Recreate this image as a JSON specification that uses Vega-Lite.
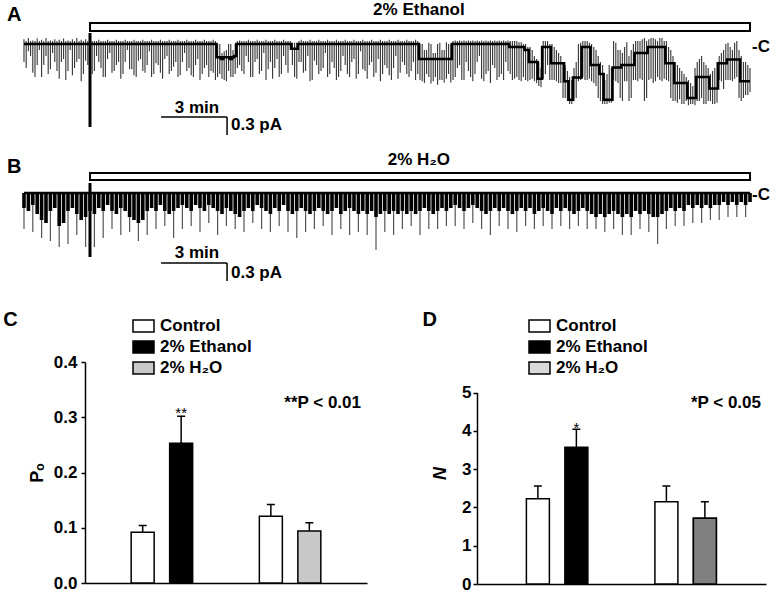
{
"$schema": "https://vega.github.io/schema/vega-lite/v6.json",
"padding": {"left": 3, "top": 0, "right": 0, "bottom": 0},
"background": "white",
"columns": 1,
"align": "none",
"spacing": 0,
"config": {
  "view": {"stroke": null},
  "font": "Liberation Sans",
  "text": {"font": "Liberation Sans", "color": "black"},
  "axis": {"labelFont": "Liberation Sans", "titleFont": "Liberation Sans", "domainColor": "black", "tickColor": "black", "labelColor": "black", "titleColor": "black", "grid": false, "labelFlush": false, "labelOverlap": false},
  "legend": {"labelFont": "Liberation Sans", "labelColor": "black"},
  "title": {"font": "Liberation Sans", "fontSize": 20, "fontWeight": "bold", "color": "black"}
},
"datasets": {
  "traceA": [
{"t":0,"h":0.08,"b":0,"l":-0.3},{"t":0.2,"h":0.1,"b":0,"l":-0.12},{"t":0.4,"h":0.06,"b":0,"l":-0.48},{"t":0.6,"h":0.09,"b":0,"l":-0.35},{"t":0.8,"h":0.07,"b":0,"l":-0.55},{"t":1,"h":0.1,"b":0,"l":-0.2},{"t":1.2,"h":0.06,"b":0,"l":-0.42},{"t":1.4,"h":0.08,"b":0,"l":-0.3},{"t":1.6,"h":0.07,"b":0,"l":-0.58},{"t":1.8,"h":0.09,"b":0,"l":-0.25},{"t":2,"h":0.06,"b":0,"l":-0.45},{"t":2.2,"h":0.08,"b":0,"l":-0.52},{"t":2.4,"h":0.1,"b":0,"l":-0.3},{"t":2.6,"h":0.07,"b":0,"l":-0.62},{"t":2.8,"h":0.08,"b":0,"l":-0.28},{"t":3,"h":0.08,"b":0,"l":-0.5},
{"t":3.2,"h":0.05,"b":0,"l":-0.45},{"t":3.4,"h":0.07,"b":0,"l":-0.3},{"t":3.6,"h":0.05,"b":0,"l":-0.55},{"t":3.8,"h":0.07,"b":0,"l":-0.25},{"t":4,"h":0.05,"b":0,"l":-0.48},{"t":4.2,"h":0.07,"b":0,"l":-0.35},{"t":4.4,"h":0.05,"b":0,"l":-0.58},{"t":4.6,"h":0.07,"b":0,"l":-0.3},{"t":4.8,"h":0.05,"b":0,"l":-0.42},{"t":5,"h":0.07,"b":0,"l":-0.52},{"t":5.2,"h":0.05,"b":0,"l":-0.28},{"t":5.4,"h":0.07,"b":0,"l":-0.45},{"t":5.6,"h":0.05,"b":0,"l":-0.35},{"t":5.8,"h":0.07,"b":0,"l":-0.55},{"t":6,"h":0.05,"b":0,"l":-0.32},{"t":6.2,"h":0.07,"b":0,"l":-0.48},{"t":6.4,"h":0.05,"b":0,"l":-0.25},{"t":6.6,"h":0.07,"b":0,"l":-0.5},{"t":6.8,"h":0.05,"b":0,"l":-0.38},{"t":7,"h":0.07,"b":0,"l":-0.55},{"t":7.2,"h":0.05,"b":0,"l":-0.3},{"t":7.4,"h":0.07,"b":0,"l":-0.45},{"t":7.6,"h":0.05,"b":0,"l":-0.52},{"t":7.8,"h":0.07,"b":0,"l":-0.35},{"t":8,"h":0.05,"b":0,"l":-0.6},{"t":8.2,"h":0.07,"b":0,"l":-0.4},{"t":8.4,"h":0.05,"b":0,"l":-0.55},{"t":8.6,"h":0.07,"b":0,"l":-0.48},
{"t":8.8,"h":0,"b":-0.22,"l":-0.55},{"t":9,"h":-0.15,"b":-0.25,"l":-0.58},{"t":9.2,"h":-0.1,"b":-0.22,"l":-0.62},{"t":9.4,"h":0,"b":-0.25,"l":-0.55},{"t":9.6,"h":0,"b":-0.2,"l":-0.5},
{"t":9.8,"h":0.06,"b":0,"l":-0.35},{"t":10,"h":0.05,"b":0,"l":-0.5},{"t":10.2,"h":0.07,"b":0,"l":-0.3},{"t":10.4,"h":0.05,"b":0,"l":-0.55},{"t":10.6,"h":0.07,"b":0,"l":-0.25},{"t":10.8,"h":0.05,"b":0,"l":-0.45},{"t":11,"h":0.07,"b":0,"l":-0.6},{"t":11.2,"h":0.05,"b":0,"l":-0.3},{"t":11.4,"h":0.07,"b":0,"l":-0.4},{"t":11.6,"h":0.05,"b":0,"l":-0.55},{"t":11.8,"h":0.07,"b":0,"l":-0.2},{"t":12,"h":0.05,"b":0,"l":-0.48},{"t":12.2,"h":0.02,"b":-0.08,"l":-0.35},{"t":12.4,"h":0.02,"b":-0.08,"l":-0.58},{"t":12.6,"h":0.07,"b":0,"l":-0.3},{"t":12.8,"h":0.05,"b":0,"l":-0.45},{"t":13,"h":0.07,"b":0,"l":-0.62},{"t":13.2,"h":0.05,"b":0,"l":-0.28},{"t":13.4,"h":0.07,"b":0,"l":-0.5},{"t":13.6,"h":0.05,"b":0,"l":-0.4},{"t":13.8,"h":0.07,"b":0,"l":-0.55},{"t":14,"h":0.05,"b":0,"l":-0.3},{"t":14.2,"h":0.07,"b":0,"l":-0.6},{"t":14.4,"h":0.05,"b":0,"l":-0.45},{"t":14.6,"h":0.07,"b":0,"l":-0.35},{"t":14.8,"h":0.05,"b":0,"l":-0.55},{"t":15,"h":0.07,"b":0,"l":-0.25},{"t":15.2,"h":0.05,"b":0,"l":-0.5},{"t":15.4,"h":0.07,"b":0,"l":-0.42},{"t":15.6,"h":0.05,"b":0,"l":-0.58},{"t":15.8,"h":0.07,"b":0,"l":-0.3},{"t":16,"h":0.05,"b":0,"l":-0.48},{"t":16.2,"h":0.07,"b":0,"l":-0.62},{"t":16.4,"h":0.05,"b":0,"l":-0.35},{"t":16.6,"h":0.07,"b":0,"l":-0.52},{"t":16.8,"h":0.05,"b":0,"l":-0.4},{"t":17,"h":0.07,"b":0,"l":-0.58},{"t":17.2,"h":0.05,"b":0,"l":-0.3},{"t":17.4,"h":0.07,"b":0,"l":-0.5},{"t":17.6,"h":0.05,"b":0,"l":-0.45},{"t":17.8,"h":0.07,"b":0,"l":-0.6},
{"t":18,"h":0,"b":-0.25,"l":-0.6},{"t":18.2,"h":-0.1,"b":-0.25,"l":-0.65},{"t":18.4,"h":0.02,"b":-0.25,"l":-0.55},{"t":18.6,"h":-0.15,"b":-0.25,"l":-0.62},{"t":18.8,"h":0,"b":-0.25,"l":-0.68},{"t":19,"h":-0.1,"b":-0.25,"l":-0.6},{"t":19.2,"h":0.03,"b":-0.25,"l":-0.58},{"t":19.4,"h":0,"b":-0.25,"l":-0.64},
{"t":19.6,"h":0.06,"b":0,"l":-0.55},{"t":19.8,"h":0.06,"b":0,"l":-0.35},{"t":20,"h":0.06,"b":0,"l":-0.6},{"t":20.2,"h":0.06,"b":0,"l":-0.45},{"t":20.4,"h":0.06,"b":0,"l":-0.62},{"t":20.6,"h":0.06,"b":0,"l":-0.3},{"t":20.8,"h":0.06,"b":0,"l":-0.58},{"t":21,"h":0.06,"b":0,"l":-0.5},{"t":21.2,"h":0.06,"b":0,"l":-0.65},{"t":21.4,"h":0.06,"b":0,"l":-0.4},{"t":21.6,"h":0.06,"b":0,"l":-0.55},{"t":21.8,"h":0.06,"b":0,"l":-0.6},{"t":22,"h":0.06,"b":0,"l":-0.45},
{"t":22.2,"h":0.05,"b":-0.05,"l":-0.6},{"t":22.4,"h":0.05,"b":-0.05,"l":-0.55},{"t":22.6,"h":0.03,"b":-0.05,"l":-0.62},{"t":22.8,"h":0,"b":-0.1,"l":-0.6},{"t":23,"h":-0.05,"b":-0.3,"l":-0.6},{"t":23.2,"h":-0.2,"b":-0.3,"l":-0.62},{"t":23.4,"h":-0.3,"b":-0.58,"l":-0.7},{"t":23.6,"h":0.05,"b":-0.05,"l":-0.58},{"t":23.8,"h":0.05,"b":-0.05,"l":-0.35},{"t":24,"h":0,"b":-0.32,"l":-0.6},{"t":24.2,"h":-0.1,"b":-0.32,"l":-0.62},{"t":24.4,"h":-0.2,"b":-0.32,"l":-0.65},{"t":24.6,"h":-0.35,"b":-0.62,"l":-0.9},{"t":24.8,"h":-0.55,"b":-0.93,"l":-1},{"t":25,"h":-0.4,"b":-0.56,"l":-0.95},{"t":25.2,"h":0,"b":-0.56,"l":-0.62},{"t":25.4,"h":0.05,"b":-0.05,"l":-0.55},{"t":25.6,"h":0.05,"b":-0.05,"l":-0.6},{"t":25.8,"h":0,"b":-0.35,"l":-0.62},{"t":26,"h":-0.1,"b":-0.35,"l":-0.7},{"t":26.2,"h":-0.3,"b":-0.5,"l":-0.95},{"t":26.4,"h":-0.6,"b":-0.93,"l":-1},{"t":26.6,"h":-0.35,"b":-0.93,"l":-0.98},{"t":26.8,"h":0.05,"b":-0.39,"l":-0.6},{"t":27,"h":-0.1,"b":-0.39,"l":-0.65},{"t":27.2,"h":-0.15,"b":-0.35,"l":-0.95},{"t":27.4,"h":0.03,"b":-0.35,"l":-0.62},{"t":27.6,"h":-0.1,"b":-0.35,"l":-0.9},{"t":27.8,"h":0.05,"b":-0.15,"l":-0.6},{"t":28,"h":0.05,"b":-0.15,"l":-0.58},{"t":28.2,"h":0.1,"b":-0.15,"l":-0.95},{"t":28.4,"h":0.08,"b":-0.05,"l":-0.6},{"t":28.6,"h":0.1,"b":-0.05,"l":-0.65},{"t":28.8,"h":0.05,"b":-0.05,"l":-0.55},{"t":29,"h":0.1,"b":-0.05,"l":-0.62},{"t":29.2,"h":0.05,"b":-0.32,"l":-0.6},{"t":29.4,"h":-0.1,"b":-0.32,"l":-0.9},{"t":29.6,"h":-0.3,"b":-0.65,"l":-0.95},{"t":29.8,"h":-0.4,"b":-0.65,"l":-0.92},{"t":30,"h":-0.5,"b":-0.65,"l":-1},{"t":30.2,"h":-0.6,"b":-0.9,"l":-1.02},{"t":30.4,"h":-0.7,"b":-0.9,"l":-1},{"t":30.6,"h":-0.3,"b":-0.55,"l":-0.95},{"t":30.8,"h":-0.2,"b":-0.55,"l":-0.9},{"t":31,"h":-0.35,"b":-0.55,"l":-1},{"t":31.2,"h":-0.5,"b":-0.74,"l":-0.95},{"t":31.4,"h":-0.4,"b":-0.74,"l":-1},{"t":31.6,"h":-0.2,"b":-0.32,"l":-0.6},{"t":31.8,"h":-0.1,"b":-0.32,"l":-0.75},{"t":32,"h":0.02,"b":-0.26,"l":-0.6},{"t":32.2,"h":-0.1,"b":-0.26,"l":-0.62},{"t":32.4,"h":0.05,"b":-0.26,"l":-0.55},{"t":32.6,"h":-0.2,"b":-0.62,"l":-0.95},{"t":32.8,"h":-0.3,"b":-0.62,"l":-0.85},{"t":33,"h":-0.4,"b":-0.62,"l":-0.8},
{"t":0.1,"h":0.05,"b":0,"l":-0.4},{"t":0.3,"h":0.05,"b":0,"l":-0.2},{"t":0.5,"h":0.05,"b":0,"l":-0.55},{"t":0.7,"h":0.05,"b":0,"l":-0.1},{"t":0.9,"h":0.05,"b":0,"l":-0.35},{"t":1.1,"h":0.05,"b":0,"l":-0.5},{"t":1.3,"h":0.05,"b":0,"l":-0.15},{"t":1.5,"h":0.05,"b":0,"l":-0.45},{"t":1.7,"h":0.05,"b":0,"l":-0.3},{"t":1.9,"h":0.05,"b":0,"l":-0.6},{"t":2.1,"h":0.05,"b":0,"l":-0.1},{"t":2.3,"h":0.05,"b":0,"l":-0.4},{"t":2.5,"h":0.05,"b":0,"l":-0.25},{"t":2.7,"h":0.05,"b":0,"l":-0.5},{"t":2.9,"h":0.05,"b":0,"l":-0.35},
{"t":3.1,"h":0.05,"b":0,"l":-0.5},{"t":3.3,"h":0.05,"b":0,"l":-0.2},{"t":3.5,"h":0.05,"b":0,"l":-0.4},{"t":3.7,"h":0.05,"b":0,"l":-0.55},{"t":3.9,"h":0.05,"b":0,"l":-0.15},{"t":4.1,"h":0.05,"b":0,"l":-0.45},{"t":4.3,"h":0.05,"b":0,"l":-0.3},{"t":4.5,"h":0.05,"b":0,"l":-0.5},{"t":4.7,"h":0.05,"b":0,"l":-0.1},{"t":4.9,"h":0.05,"b":0,"l":-0.42},{"t":5.1,"h":0.05,"b":0,"l":-0.55},{"t":5.3,"h":0.05,"b":0,"l":-0.25},{"t":5.5,"h":0.05,"b":0,"l":-0.48},{"t":5.7,"h":0.05,"b":0,"l":-0.12},{"t":5.9,"h":0.05,"b":0,"l":-0.5},{"t":6.1,"h":0.05,"b":0,"l":-0.35},{"t":6.3,"h":0.05,"b":0,"l":-0.58},{"t":6.5,"h":0.05,"b":0,"l":-0.2},{"t":6.7,"h":0.05,"b":0,"l":-0.45},{"t":6.9,"h":0.05,"b":0,"l":-0.3},{"t":7.1,"h":0.05,"b":0,"l":-0.52},{"t":7.3,"h":0.05,"b":0,"l":-0.15},{"t":7.5,"h":0.05,"b":0,"l":-0.4},{"t":7.7,"h":0.05,"b":0,"l":-0.55},{"t":7.9,"h":0.05,"b":0,"l":-0.25},{"t":8.1,"h":0.05,"b":0,"l":-0.5},{"t":8.3,"h":0.05,"b":0,"l":-0.35},{"t":8.5,"h":0.05,"b":0,"l":-0.45},{"t":8.7,"h":0.05,"b":0,"l":-0.6},
{"t":8.9,"h":0,"b":-0.22,"l":-0.5},{"t":9.1,"h":-0.12,"b":-0.22,"l":-0.6},{"t":9.3,"h":0,"b":-0.22,"l":-0.45},{"t":9.5,"h":-0.1,"b":-0.22,"l":-0.55},{"t":9.7,"h":0.05,"b":0,"l":-0.4},
{"t":9.9,"h":0.05,"b":0,"l":-0.45},{"t":10.1,"h":0.05,"b":0,"l":-0.2},{"t":10.3,"h":0.05,"b":0,"l":-0.55},{"t":10.5,"h":0.05,"b":0,"l":-0.3},{"t":10.7,"h":0.05,"b":0,"l":-0.5},{"t":10.9,"h":0.05,"b":0,"l":-0.15},{"t":11.1,"h":0.05,"b":0,"l":-0.42},{"t":11.3,"h":0.05,"b":0,"l":-0.58},{"t":11.5,"h":0.05,"b":0,"l":-0.25},{"t":11.7,"h":0.05,"b":0,"l":-0.5},{"t":11.9,"h":0.05,"b":0,"l":-0.35},{"t":12.1,"h":0.05,"b":0,"l":-0.1},{"t":12.3,"h":0.02,"b":-0.08,"l":-0.55},{"t":12.5,"h":0.05,"b":0,"l":-0.3},{"t":12.7,"h":0.05,"b":0,"l":-0.48},{"t":12.9,"h":0.05,"b":0,"l":-0.2},{"t":13.1,"h":0.05,"b":0,"l":-0.6},{"t":13.3,"h":0.05,"b":0,"l":-0.35},{"t":13.5,"h":0.05,"b":0,"l":-0.45},{"t":13.7,"h":0.05,"b":0,"l":-0.15},{"t":13.9,"h":0.05,"b":0,"l":-0.5},{"t":14.1,"h":0.05,"b":0,"l":-0.4},{"t":14.3,"h":0.05,"b":0,"l":-0.55},{"t":14.5,"h":0.05,"b":0,"l":-0.2},{"t":14.7,"h":0.05,"b":0,"l":-0.5},{"t":14.9,"h":0.05,"b":0,"l":-0.3},{"t":15.1,"h":0.05,"b":0,"l":-0.58},{"t":15.3,"h":0.05,"b":0,"l":-0.12},{"t":15.5,"h":0.05,"b":0,"l":-0.45},{"t":15.7,"h":0.05,"b":0,"l":-0.35},{"t":15.9,"h":0.05,"b":0,"l":-0.55},{"t":16.1,"h":0.05,"b":0,"l":-0.25},{"t":16.3,"h":0.05,"b":0,"l":-0.5},{"t":16.5,"h":0.05,"b":0,"l":-0.4},{"t":16.7,"h":0.05,"b":0,"l":-0.6},{"t":16.9,"h":0.05,"b":0,"l":-0.2},{"t":17.1,"h":0.05,"b":0,"l":-0.48},{"t":17.3,"h":0.05,"b":0,"l":-0.35},{"t":17.5,"h":0.05,"b":0,"l":-0.55},{"t":17.7,"h":0.05,"b":0,"l":-0.3},{"t":17.9,"h":0.05,"b":0,"l":-0.5},
{"t":18.1,"h":0,"b":-0.25,"l":-0.62},{"t":18.3,"h":-0.1,"b":-0.25,"l":-0.5},{"t":18.5,"h":0,"b":-0.25,"l":-0.66},{"t":18.7,"h":-0.15,"b":-0.25,"l":-0.55},{"t":18.9,"h":0.02,"b":-0.25,"l":-0.6},{"t":19.1,"h":-0.1,"b":-0.25,"l":-0.64},{"t":19.3,"h":0,"b":-0.25,"l":-0.5},{"t":19.5,"h":0.05,"b":0,"l":-0.6},
{"t":19.7,"h":0.05,"b":0,"l":-0.4},{"t":19.9,"h":0.05,"b":0,"l":-0.6},{"t":20.1,"h":0.05,"b":0,"l":-0.3},{"t":20.3,"h":0.05,"b":0,"l":-0.55},{"t":20.5,"h":0.05,"b":0,"l":-0.5},{"t":20.7,"h":0.05,"b":0,"l":-0.2},{"t":20.9,"h":0.05,"b":0,"l":-0.62},{"t":21.1,"h":0.05,"b":0,"l":-0.45},{"t":21.3,"h":0.05,"b":0,"l":-0.35},{"t":21.5,"h":0.05,"b":0,"l":-0.6},{"t":21.7,"h":0.05,"b":0,"l":-0.5},{"t":21.9,"h":0.05,"b":0,"l":-0.3},{"t":22.1,"h":0.05,"b":-0.05,"l":-0.5},
{"t":22.3,"h":0.05,"b":-0.05,"l":-0.58},{"t":22.5,"h":0.03,"b":-0.05,"l":-0.6},{"t":22.7,"h":0,"b":-0.05,"l":-0.55},{"t":22.9,"h":-0.05,"b":-0.1,"l":-0.62},{"t":23.1,"h":-0.1,"b":-0.3,"l":-0.58},{"t":23.3,"h":-0.25,"b":-0.3,"l":-0.65},{"t":23.5,"h":-0.4,"b":-0.58,"l":-0.72},{"t":23.7,"h":0.05,"b":-0.05,"l":-0.5},{"t":23.9,"h":0,"b":-0.05,"l":-0.6},{"t":24.1,"h":-0.05,"b":-0.32,"l":-0.6},{"t":24.3,"h":-0.15,"b":-0.32,"l":-0.65},{"t":24.5,"h":-0.3,"b":-0.32,"l":-0.9},{"t":24.7,"h":-0.45,"b":-0.62,"l":-0.95},{"t":24.9,"h":-0.6,"b":-0.93,"l":-1},{"t":25.1,"h":-0.3,"b":-0.56,"l":-0.9},{"t":25.3,"h":0.02,"b":-0.56,"l":-0.6},{"t":25.5,"h":0.05,"b":-0.05,"l":-0.6},{"t":25.7,"h":0.02,"b":-0.05,"l":-0.58},{"t":25.9,"h":-0.05,"b":-0.35,"l":-0.65},{"t":26.1,"h":-0.2,"b":-0.35,"l":-0.9},{"t":26.3,"h":-0.35,"b":-0.5,"l":-1},{"t":26.5,"h":-0.5,"b":-0.93,"l":-1},{"t":26.7,"h":-0.4,"b":-0.93,"l":-0.98},{"t":26.9,"h":0.02,"b":-0.39,"l":-0.62},{"t":27.1,"h":-0.1,"b":-0.39,"l":-0.9},{"t":27.3,"h":-0.05,"b":-0.35,"l":-0.62},{"t":27.5,"h":-0.2,"b":-0.35,"l":-0.95},{"t":27.7,"h":0,"b":-0.35,"l":-0.6},{"t":27.9,"h":0.05,"b":-0.15,"l":-0.62},{"t":28.1,"h":0.08,"b":-0.15,"l":-0.6},{"t":28.3,"h":0.05,"b":-0.15,"l":-0.9},{"t":28.5,"h":0.1,"b":-0.05,"l":-0.58},{"t":28.7,"h":0.08,"b":-0.05,"l":-0.62},{"t":28.9,"h":0.1,"b":-0.05,"l":-0.6},{"t":29.1,"h":0.05,"b":-0.05,"l":-0.58},{"t":29.3,"h":-0.05,"b":-0.32,"l":-0.62},{"t":29.5,"h":-0.2,"b":-0.32,"l":-0.95},{"t":29.7,"h":-0.35,"b":-0.65,"l":-0.98},{"t":29.9,"h":-0.45,"b":-0.65,"l":-1},{"t":30.1,"h":-0.55,"b":-0.65,"l":-0.95},{"t":30.3,"h":-0.65,"b":-0.9,"l":-1},{"t":30.5,"h":-0.4,"b":-0.9,"l":-1.02},{"t":30.7,"h":-0.25,"b":-0.55,"l":-0.95},{"t":30.9,"h":-0.3,"b":-0.55,"l":-1},{"t":31.1,"h":-0.4,"b":-0.55,"l":-0.95},{"t":31.3,"h":-0.45,"b":-0.74,"l":-1},{"t":31.5,"h":-0.3,"b":-0.74,"l":-0.98},{"t":31.7,"h":-0.15,"b":-0.32,"l":-0.62},{"t":31.9,"h":0,"b":-0.32,"l":-0.6},{"t":32.1,"h":-0.05,"b":-0.26,"l":-0.6},{"t":32.3,"h":0.02,"b":-0.26,"l":-0.58},{"t":32.5,"h":-0.1,"b":-0.26,"l":-0.9},{"t":32.7,"h":-0.3,"b":-0.62,"l":-0.9},{"t":32.9,"h":-0.35,"b":-0.62,"l":-0.85}
  ],
  "traceB": [
{"t":0,"b":0,"m":-0.25,"l":-0.6},{"t":0.2,"b":0,"m":-0.3,"l":-0.3},{"t":0.4,"b":0,"m":-0.2,"l":-0.65},{"t":0.6,"b":0,"m":-0.35,"l":-0.35},{"t":0.8,"b":0,"m":-0.45,"l":-0.75},{"t":1,"b":0,"m":-0.5,"l":-0.5},{"t":1.2,"b":0,"m":-0.3,"l":-0.8},{"t":1.4,"b":0,"m":-0.25,"l":-0.25},{"t":1.6,"b":0,"m":-0.55,"l":-0.9},{"t":1.8,"b":0,"m":-0.5,"l":-0.5},{"t":2,"b":0,"m":-0.3,"l":-0.85},{"t":2.2,"b":0,"m":-0.25,"l":-0.25},{"t":2.4,"b":0,"m":-0.35,"l":-0.7},{"t":2.6,"b":0,"m":-0.45,"l":-0.45},{"t":2.8,"b":0,"m":-0.4,"l":-0.9},{"t":3,"b":0,"m":-0.3,"l":-0.6},{"t":3.2,"b":0,"m":-0.35,"l":-0.9},{"t":3.4,"b":0,"m":-0.25,"l":-0.25},{"t":3.6,"b":0,"m":-0.3,"l":-0.75},{"t":3.8,"b":0,"m":-0.2,"l":-0.2},{"t":4,"b":0,"m":-0.3,"l":-0.6},{"t":4.2,"b":0,"m":-0.35,"l":-0.35},{"t":4.4,"b":0,"m":-0.25,"l":-0.7},{"t":4.6,"b":0,"m":-0.3,"l":-0.3},{"t":4.8,"b":0,"m":-0.4,"l":-0.65},{"t":5,"b":0,"m":-0.45,"l":-0.45},{"t":5.2,"b":0,"m":-0.5,"l":-0.8},{"t":5.4,"b":0,"m":-0.45,"l":-0.45},{"t":5.6,"b":0,"m":-0.3,"l":-0.7},{"t":5.8,"b":0,"m":-0.25,"l":-0.25},{"t":6,"b":0,"m":-0.3,"l":-0.6},{"t":6.2,"b":0,"m":-0.2,"l":-0.2},{"t":6.4,"b":0,"m":-0.3,"l":-0.55},{"t":6.6,"b":0,"m":-0.35,"l":-0.35},{"t":6.8,"b":0,"m":-0.3,"l":-0.75},{"t":7,"b":0,"m":-0.25,"l":-0.25},{"t":7.2,"b":0,"m":-0.2,"l":-0.6},{"t":7.4,"b":0,"m":-0.25,"l":-0.25},{"t":7.6,"b":0,"m":-0.3,"l":-0.55},{"t":7.8,"b":0,"m":-0.2,"l":-0.2},{"t":8,"b":0,"m":-0.25,"l":-0.65},{"t":8.2,"b":0,"m":-0.3,"l":-0.3},{"t":8.4,"b":0,"m":-0.2,"l":-0.5},{"t":8.6,"b":0,"m":-0.25,"l":-0.25},{"t":8.8,"b":0,"m":-0.3,"l":-0.7},{"t":9,"b":0,"m":-0.35,"l":-0.35},{"t":9.2,"b":0,"m":-0.25,"l":-0.55},{"t":9.4,"b":0,"m":-0.3,"l":-0.3},{"t":9.6,"b":0,"m":-0.35,"l":-0.6},{"t":9.8,"b":0,"m":-0.4,"l":-0.4},{"t":10,"b":0,"m":-0.3,"l":-0.65},{"t":10.2,"b":0,"m":-0.25,"l":-0.25},{"t":10.4,"b":0,"m":-0.3,"l":-0.5},{"t":10.6,"b":0,"m":-0.2,"l":-0.2},{"t":10.8,"b":0,"m":-0.25,"l":-0.6},{"t":11,"b":0,"m":-0.3,"l":-0.3},{"t":11.2,"b":0,"m":-0.35,"l":-0.65},{"t":11.4,"b":0,"m":-0.25,"l":-0.25},{"t":11.6,"b":0,"m":-0.3,"l":-0.55},{"t":11.8,"b":0,"m":-0.2,"l":-0.2},{"t":12,"b":0,"m":-0.3,"l":-0.65},{"t":12.2,"b":0,"m":-0.35,"l":-0.35},{"t":12.4,"b":0,"m":-0.3,"l":-0.75},{"t":12.6,"b":0,"m":-0.25,"l":-0.25},{"t":12.8,"b":0,"m":-0.3,"l":-0.65},{"t":13,"b":0,"m":-0.35,"l":-0.35},{"t":13.2,"b":0,"m":-0.3,"l":-0.6},{"t":13.4,"b":0,"m":-0.25,"l":-0.25},{"t":13.6,"b":0,"m":-0.3,"l":-0.55},{"t":13.8,"b":0,"m":-0.35,"l":-0.35},{"t":14,"b":0,"m":-0.3,"l":-0.7},{"t":14.2,"b":0,"m":-0.25,"l":-0.25},{"t":14.4,"b":0,"m":-0.35,"l":-0.6},{"t":14.6,"b":0,"m":-0.3,"l":-0.3},{"t":14.8,"b":0,"m":-0.25,"l":-0.7},{"t":15,"b":0,"m":-0.3,"l":-0.3},{"t":15.2,"b":0,"m":-0.35,"l":-0.65},{"t":15.4,"b":0,"m":-0.3,"l":-0.3},{"t":15.6,"b":0,"m":-0.35,"l":-0.7},{"t":15.8,"b":0,"m":-0.3,"l":-0.3},{"t":16,"b":0,"m":-0.4,"l":-0.95},{"t":16.2,"b":0,"m":-0.35,"l":-0.35},{"t":16.4,"b":0,"m":-0.3,"l":-0.65},{"t":16.6,"b":0,"m":-0.35,"l":-0.35},{"t":16.8,"b":0,"m":-0.3,"l":-0.7},{"t":17,"b":0,"m":-0.35,"l":-0.35},{"t":17.2,"b":0,"m":-0.3,"l":-0.6},{"t":17.4,"b":0,"m":-0.35,"l":-0.35},{"t":17.6,"b":0,"m":-0.3,"l":-0.55},{"t":17.8,"b":0,"m":-0.35,"l":-0.35},{"t":18,"b":0,"m":-0.3,"l":-0.7},{"t":18.2,"b":0,"m":-0.25,"l":-0.25},{"t":18.4,"b":0,"m":-0.3,"l":-0.6},{"t":18.6,"b":0,"m":-0.35,"l":-0.35},{"t":18.8,"b":0,"m":-0.3,"l":-0.6},{"t":19,"b":0,"m":-0.25,"l":-0.25},{"t":19.2,"b":0,"m":-0.3,"l":-0.55},{"t":19.4,"b":0,"m":-0.25,"l":-0.25},{"t":19.6,"b":0,"m":-0.2,"l":-0.55},{"t":19.8,"b":0,"m":-0.25,"l":-0.25},{"t":20,"b":0,"m":-0.3,"l":-0.6},{"t":20.2,"b":0,"m":-0.25,"l":-0.25},{"t":20.4,"b":0,"m":-0.2,"l":-0.5},{"t":20.6,"b":0,"m":-0.25,"l":-0.25},{"t":20.8,"b":0,"m":-0.3,"l":-0.6},{"t":21,"b":0,"m":-0.35,"l":-0.35},{"t":21.2,"b":0,"m":-0.3,"l":-0.7},{"t":21.4,"b":0,"m":-0.25,"l":-0.25},{"t":21.6,"b":0,"m":-0.3,"l":-0.55},{"t":21.8,"b":0,"m":-0.25,"l":-0.25},{"t":22,"b":0,"m":-0.3,"l":-0.6},{"t":22.2,"b":0,"m":-0.35,"l":-0.35},{"t":22.4,"b":0,"m":-0.3,"l":-0.65},{"t":22.6,"b":0,"m":-0.25,"l":-0.25},{"t":22.8,"b":0,"m":-0.3,"l":-0.55},{"t":23,"b":0,"m":-0.25,"l":-0.25},{"t":23.2,"b":0,"m":-0.35,"l":-0.6},{"t":23.4,"b":0,"m":-0.3,"l":-0.3},{"t":23.6,"b":0,"m":-0.25,"l":-0.55},{"t":23.8,"b":0,"m":-0.3,"l":-0.3},{"t":24,"b":0,"m":-0.35,"l":-0.6},{"t":24.2,"b":0,"m":-0.25,"l":-0.25},{"t":24.4,"b":0,"m":-0.3,"l":-0.55},{"t":24.6,"b":0,"m":-0.25,"l":-0.25},{"t":24.8,"b":0,"m":-0.3,"l":-0.6},{"t":25,"b":0,"m":-0.35,"l":-0.35},{"t":25.2,"b":0,"m":-0.3,"l":-0.55},{"t":25.4,"b":0,"m":-0.25,"l":-0.25},{"t":25.6,"b":0,"m":-0.3,"l":-0.6},{"t":25.8,"b":0,"m":-0.35,"l":-0.35},{"t":26,"b":0,"m":-0.4,"l":-0.6},{"t":26.2,"b":0,"m":-0.35,"l":-0.35},{"t":26.4,"b":0,"m":-0.4,"l":-0.65},{"t":26.6,"b":0,"m":-0.35,"l":-0.35},{"t":26.8,"b":0,"m":-0.3,"l":-0.6},{"t":27,"b":0,"m":-0.35,"l":-0.35},{"t":27.2,"b":0,"m":-0.4,"l":-0.7},{"t":27.4,"b":0,"m":-0.35,"l":-0.35},{"t":27.6,"b":0,"m":-0.4,"l":-0.7},{"t":27.8,"b":0,"m":-0.3,"l":-0.3},{"t":28,"b":0,"m":-0.35,"l":-0.6},{"t":28.2,"b":0,"m":-0.3,"l":-0.3},{"t":28.4,"b":0,"m":-0.35,"l":-0.65},{"t":28.6,"b":0,"m":-0.4,"l":-0.4},{"t":28.8,"b":0,"m":-0.4,"l":-0.85},{"t":29,"b":0,"m":-0.35,"l":-0.35},{"t":29.2,"b":0,"m":-0.3,"l":-0.6},{"t":29.4,"b":0,"m":-0.25,"l":-0.25},{"t":29.6,"b":0,"m":-0.3,"l":-0.55},{"t":29.8,"b":0,"m":-0.25,"l":-0.25},{"t":30,"b":0,"m":-0.3,"l":-0.55},{"t":30.2,"b":0,"m":-0.2,"l":-0.2},{"t":30.4,"b":0,"m":-0.25,"l":-0.5},{"t":30.6,"b":0,"m":-0.2,"l":-0.2},{"t":30.8,"b":0,"m":-0.25,"l":-0.5},{"t":31,"b":0,"m":-0.2,"l":-0.2},{"t":31.2,"b":0,"m":-0.25,"l":-0.45},{"t":31.4,"b":0,"m":-0.2,"l":-0.2},{"t":31.6,"b":0,"m":-0.2,"l":-0.45},{"t":31.8,"b":0,"m":-0.15,"l":-0.15},{"t":32,"b":0,"m":-0.2,"l":-0.4},{"t":32.2,"b":0,"m":-0.15,"l":-0.15},{"t":32.4,"b":0,"m":-0.2,"l":-0.4},{"t":32.6,"b":0,"m":-0.15,"l":-0.15},{"t":32.8,"b":0,"m":-0.2,"l":-0.4},{"t":33,"b":0,"m":-0.15,"l":-0.15}
  ],
  "po": [
    {"exp": "Ethanol", "phase": "Control", "cond": "Control", "mean": 0.092, "hi": 0.104, "sig": ""},
    {"exp": "Ethanol", "phase": "Treatment", "cond": "2% Ethanol", "mean": 0.253, "hi": 0.302, "sig": "**"},
    {"exp": "H2O", "phase": "Control", "cond": "Control", "mean": 0.121, "hi": 0.142, "sig": ""},
    {"exp": "H2O", "phase": "Treatment", "cond": "2% H₂O", "mean": 0.094, "hi": 0.109, "sig": ""}
  ],
  "nn": [
    {"exp": "Ethanol", "phase": "Control", "cond": "Control", "mean": 2.23, "hi": 2.56, "sig": ""},
    {"exp": "Ethanol", "phase": "Treatment", "cond": "2% Ethanol", "mean": 3.57, "hi": 4.04, "sig": "*"},
    {"exp": "H2O", "phase": "Control", "cond": "Control", "mean": 2.15, "hi": 2.56, "sig": ""},
    {"exp": "H2O", "phase": "Treatment", "cond": "2% H₂O", "mean": 1.72, "hi": 2.15, "sig": ""}
  ]
},
"concat": [
  {
    "width": 692, "height": 140,
    "layer": [
      {"data": {"name": "traceA"}, "mark": {"type": "rule", "color": "#333", "strokeWidth": 1.1},
       "encoding": {"x": {"field": "t", "type": "quantitative", "scale": {"domain": [2.773, 34.227], "nice": false, "zero": false}, "axis": null},
                    "y": {"field": "h", "type": "quantitative", "scale": {"domain": [-1.6, 0.733], "nice": false, "zero": false}, "axis": null},
                    "y2": {"field": "l"}}},
      {"data": {"name": "traceA"}, "mark": {"type": "line", "color": "black", "strokeWidth": 2.5, "interpolate": "step"},
       "encoding": {"x": {"field": "t", "type": "quantitative", "axis": null}, "y": {"field": "b", "type": "quantitative", "axis": null}}},
      {"data": {"values": [{"t": 3, "top": 0.183, "bot": -1.383}]}, "mark": {"type": "rule", "color": "black", "strokeWidth": 3},
       "encoding": {"x": {"field": "t", "type": "quantitative", "axis": null}, "y": {"field": "top", "type": "quantitative", "axis": null}, "y2": {"field": "bot"}}},
      {"data": {"values": [{"start": 3, "end": 33}]}, "mark": {"type": "rect", "fill": "white", "stroke": "black", "strokeWidth": 2},
       "encoding": {"x": {"field": "start", "type": "quantitative", "axis": null}, "x2": {"field": "end"}, "y": {"datum": 0.35, "type": "quantitative", "axis": null}, "y2": {"datum": 0.217}}},
      {"data": {"values": [{"label": "2% Ethanol"}]}, "mark": {"type": "text", "fontSize": 17, "fontWeight": "bold", "align": "center", "baseline": "alphabetic"},
       "encoding": {"x": {"datum": 17.95, "type": "quantitative", "axis": null}, "y": {"datum": 0.483, "type": "quantitative", "axis": null}, "text": {"field": "label", "type": "nominal"}}},
      {"data": {"values": [{"label": "A"}]}, "mark": {"type": "text", "fontSize": 20, "fontWeight": "bold", "align": "left", "baseline": "alphabetic"},
       "encoding": {"x": {"datum": -0.773, "type": "quantitative", "axis": null}, "y": {"datum": 0.383, "type": "quantitative", "axis": null}, "text": {"field": "label", "type": "nominal"}}},
      {"data": {"values": [{"label": "-C"}]}, "mark": {"type": "text", "fontSize": 17, "fontWeight": "bold", "align": "left", "baseline": "alphabetic"},
       "encoding": {"x": {"datum": 33.09, "type": "quantitative", "axis": null}, "y": {"datum": -0.133, "type": "quantitative", "axis": null}, "text": {"field": "label", "type": "nominal"}}},
      {"data": {"values": [{"t0": 6.23, "t1": 9.23, "i": -1.217}]}, "mark": {"type": "rule", "color": "black", "strokeWidth": 1.5},
       "encoding": {"x": {"field": "t0", "type": "quantitative", "axis": null}, "x2": {"field": "t1"}, "y": {"field": "i", "type": "quantitative", "axis": null}}},
      {"data": {"values": [{"t": 9.23, "i0": -1.217, "i1": -1.517}]}, "mark": {"type": "rule", "color": "black", "strokeWidth": 1.5},
       "encoding": {"x": {"field": "t", "type": "quantitative", "axis": null}, "y": {"field": "i0", "type": "quantitative", "axis": null}, "y2": {"field": "i1"}}},
      {"data": {"values": [{"label": "3 min"}]}, "mark": {"type": "text", "fontSize": 17, "fontWeight": "bold", "align": "center", "baseline": "alphabetic"},
       "encoding": {"x": {"datum": 7.86, "type": "quantitative", "axis": null}, "y": {"datum": -1.15, "type": "quantitative", "axis": null}, "text": {"field": "label", "type": "nominal"}}},
      {"data": {"values": [{"label": "0.3 pA"}]}, "mark": {"type": "text", "fontSize": 17, "fontWeight": "bold", "align": "left", "baseline": "alphabetic"},
       "encoding": {"x": {"datum": 9.41, "type": "quantitative", "axis": null}, "y": {"datum": -1.433, "type": "quantitative", "axis": null}, "text": {"field": "label", "type": "nominal"}}}
    ]
  },
  {
    "width": 692, "height": 169,
    "layer": [
      {"data": {"name": "traceB"}, "mark": {"type": "rule", "color": "#555", "strokeWidth": 1.2},
       "encoding": {"x": {"field": "t", "type": "quantitative", "scale": {"domain": [2.773, 34.227], "nice": false, "zero": false}, "axis": null},
                    "y": {"field": "b", "type": "quantitative", "scale": {"domain": [-1.933, 0.883], "nice": false, "zero": false}, "axis": null},
                    "y2": {"field": "l"}}},
      {"data": {"name": "traceB"}, "mark": {"type": "rule", "color": "black", "strokeWidth": 3.6},
       "encoding": {"x": {"field": "t", "type": "quantitative", "axis": null}, "y": {"field": "b", "type": "quantitative", "axis": null}, "y2": {"field": "m"}}},
      {"data": {"name": "traceB"}, "mark": {"type": "line", "color": "black", "strokeWidth": 2.5},
       "encoding": {"x": {"field": "t", "type": "quantitative", "axis": null}, "y": {"field": "b", "type": "quantitative", "axis": null}}},
      {"data": {"values": [{"t": 3, "top": 0.167, "bot": -1.067}]}, "mark": {"type": "rule", "color": "black", "strokeWidth": 3},
       "encoding": {"x": {"field": "t", "type": "quantitative", "axis": null}, "y": {"field": "top", "type": "quantitative", "axis": null}, "y2": {"field": "bot"}}},
      {"data": {"values": [{"start": 3, "end": 33}]}, "mark": {"type": "rect", "fill": "white", "stroke": "black", "strokeWidth": 2},
       "encoding": {"x": {"field": "start", "type": "quantitative", "axis": null}, "x2": {"field": "end"}, "y": {"datum": 0.333, "type": "quantitative", "axis": null}, "y2": {"datum": 0.217}}},
      {"data": {"values": [{"label": "2% H₂O"}]}, "mark": {"type": "text", "fontSize": 17, "fontWeight": "bold", "align": "center", "baseline": "alphabetic"},
       "encoding": {"x": {"datum": 17.95, "type": "quantitative", "axis": null}, "y": {"datum": 0.467, "type": "quantitative", "axis": null}, "text": {"field": "label", "type": "nominal"}}},
      {"data": {"values": [{"label": "B"}]}, "mark": {"type": "text", "fontSize": 20, "fontWeight": "bold", "align": "left", "baseline": "alphabetic"},
       "encoding": {"x": {"datum": -0.773, "type": "quantitative", "axis": null}, "y": {"datum": 0.333, "type": "quantitative", "axis": null}, "text": {"field": "label", "type": "nominal"}}},
      {"data": {"values": [{"label": "-C"}]}, "mark": {"type": "text", "fontSize": 17, "fontWeight": "bold", "align": "left", "baseline": "alphabetic"},
       "encoding": {"x": {"datum": 33.09, "type": "quantitative", "axis": null}, "y": {"datum": -0.117, "type": "quantitative", "axis": null}, "text": {"field": "label", "type": "nominal"}}},
      {"data": {"values": [{"t0": 6.23, "t1": 9.23, "i": -1.167}]}, "mark": {"type": "rule", "color": "black", "strokeWidth": 1.5},
       "encoding": {"x": {"field": "t0", "type": "quantitative", "axis": null}, "x2": {"field": "t1"}, "y": {"field": "i", "type": "quantitative", "axis": null}}},
      {"data": {"values": [{"t": 9.23, "i0": -1.167, "i1": -1.467}]}, "mark": {"type": "rule", "color": "black", "strokeWidth": 1.5},
       "encoding": {"x": {"field": "t", "type": "quantitative", "axis": null}, "y": {"field": "i0", "type": "quantitative", "axis": null}, "y2": {"field": "i1"}}},
      {"data": {"values": [{"label": "3 min"}]}, "mark": {"type": "text", "fontSize": 17, "fontWeight": "bold", "align": "center", "baseline": "alphabetic"},
       "encoding": {"x": {"datum": 7.86, "type": "quantitative", "axis": null}, "y": {"datum": -1.083, "type": "quantitative", "axis": null}, "text": {"field": "label", "type": "nominal"}}},
      {"data": {"values": [{"label": "0.3 pA"}]}, "mark": {"type": "text", "fontSize": 17, "fontWeight": "bold", "align": "left", "baseline": "alphabetic"},
       "encoding": {"x": {"datum": 9.41, "type": "quantitative", "axis": null}, "y": {"datum": -1.417, "type": "quantitative", "axis": null}, "text": {"field": "label", "type": "nominal"}}}
    ]
  },
  {
    "concat": [
      {
        "width": 282, "height": 221,
        "title": {"text": "C", "anchor": "start", "frame": "bounds", "dx": -25, "dy": 15, "offset": 0},
        "data": {"name": "po"},
        "layer": [
          {"mark": {"type": "bar", "stroke": "black", "strokeWidth": 1.5},
           "encoding": {
             "x": {"field": "exp", "type": "nominal", "scale": {"paddingInner": 0.3, "paddingOuter": 0.25}, "axis": {"labels": false, "ticks": false, "title": null, "domainWidth": 1.5}},
             "xOffset": {"field": "phase", "type": "nominal", "scale": {"paddingInner": 0.4026, "paddingOuter": 0.367}},
             "y": {"field": "mean", "type": "quantitative", "scale": {"domain": [0, 0.4], "nice": false}, "axis": {"values": [0, 0.1, 0.2, 0.3, 0.4], "format": ".1f", "title": "Pₒ", "titleFontSize": 18, "titleFontWeight": "bold", "titlePadding": 7, "labelFontSize": 17, "labelFontWeight": "bold", "labelPadding": 4, "tickSize": 4, "tickWidth": 1.5, "domainWidth": 1.5, "labelOverlap": false, "labelSeparation": -20}},
             "fill": {"field": "cond", "type": "nominal", "scale": {"domain": ["Control", "2% Ethanol", "2% H₂O"], "range": ["white", "black", "#c8c8c8"]},
                      "legend": {"orient": "none", "legendX": 47, "legendY": -47.5, "title": null, "symbolType": "M-1,-0.57H1V0.57H-1Z", "symbolSize": 441, "symbolStrokeColor": "black", "symbolStrokeWidth": 1.5, "symbolOpacity": 1, "labelFontSize": 17, "labelFontWeight": "bold", "labelOffset": 5, "rowPadding": 0, "padding": 0}}
           }},
          {"mark": {"type": "bar", "width": 1.5, "color": "black"},
           "encoding": {"x": {"field": "exp", "type": "nominal", "axis": {"labels": false, "ticks": false, "title": null, "domainWidth": 1.5}}, "xOffset": {"field": "phase", "type": "nominal"},
                        "y": {"field": "mean", "type": "quantitative", "axis": {"values": [0, 0.1, 0.2, 0.3, 0.4], "format": ".1f", "title": "Pₒ", "titleFontSize": 18, "titleFontWeight": "bold", "titlePadding": 7, "labelFontSize": 17, "labelFontWeight": "bold", "labelPadding": 4, "tickSize": 4, "tickWidth": 1.5, "domainWidth": 1.5, "labelOverlap": false, "labelSeparation": -20}}, "y2": {"field": "hi"}}},
          {"mark": {"type": "bar", "width": 8, "fill": "black", "stroke": "black", "strokeWidth": 1.5},
           "encoding": {"x": {"field": "exp", "type": "nominal", "axis": {"labels": false, "ticks": false, "title": null, "domainWidth": 1.5}}, "xOffset": {"field": "phase", "type": "nominal"},
                        "y": {"field": "hi", "type": "quantitative", "axis": {"values": [0, 0.1, 0.2, 0.3, 0.4], "format": ".1f", "title": "Pₒ", "titleFontSize": 18, "titleFontWeight": "bold", "titlePadding": 7, "labelFontSize": 17, "labelFontWeight": "bold", "labelPadding": 4, "tickSize": 4, "tickWidth": 1.5, "domainWidth": 1.5, "labelOverlap": false, "labelSeparation": -20}}, "y2": {"field": "hi"}}},
          {"mark": {"type": "text", "fontSize": 15, "baseline": "alphabetic", "align": "center", "dy": 2},
           "encoding": {"x": {"field": "exp", "type": "nominal", "axis": {"labels": false, "ticks": false, "title": null, "domainWidth": 1.5}}, "xOffset": {"field": "phase", "type": "nominal"},
                        "y": {"field": "hi", "type": "quantitative", "axis": {"values": [0, 0.1, 0.2, 0.3, 0.4], "format": ".1f", "title": "Pₒ", "titleFontSize": 18, "titleFontWeight": "bold", "titlePadding": 7, "labelFontSize": 17, "labelFontWeight": "bold", "labelPadding": 4, "tickSize": 4, "tickWidth": 1.5, "domainWidth": 1.5, "labelOverlap": false, "labelSeparation": -20}}, "text": {"field": "sig", "type": "nominal"}}},
          {"data": {"values": [{"note": "**P < 0.01"}]}, "mark": {"type": "text", "fontSize": 17, "fontWeight": "bold", "align": "right", "baseline": "alphabetic", "dx": -6},
           "encoding": {"x": {"value": "width"},
                        "y": {"datum": 0.317, "type": "quantitative", "axis": {"values": [0, 0.1, 0.2, 0.3, 0.4], "format": ".1f", "title": "Pₒ", "titleFontSize": 18, "titleFontWeight": "bold", "titlePadding": 7, "labelFontSize": 17, "labelFontWeight": "bold", "labelPadding": 4, "tickSize": 4, "tickWidth": 1.5, "domainWidth": 1.5, "labelOverlap": false, "labelSeparation": -20}}, "text": {"field": "note", "type": "nominal"}}}
        ]
      },
      {
        "width": 289, "height": 222,
        "title": {"text": "D", "anchor": "start", "frame": "bounds", "dx": -9, "dy": 15, "offset": 0},
        "data": {"name": "nn"},
        "layer": [
          {"mark": {"type": "bar", "stroke": "black", "strokeWidth": 1.5},
           "encoding": {
             "x": {"field": "exp", "type": "nominal", "scale": {"paddingInner": 0.3, "paddingOuter": 0.2745}, "axis": {"labels": false, "ticks": false, "title": null, "domainWidth": 1.5}},
             "xOffset": {"field": "phase", "type": "nominal", "scale": {"paddingInner": 0.478, "paddingOuter": 0.2385}},
             "y": {"field": "mean", "type": "quantitative", "scale": {"domain": [0, 5.8], "nice": false}, "axis": {"values": [0, 1, 2, 3, 4, 5], "title": "N", "titleFontSize": 18, "titleFontWeight": "bold", "titleFontStyle": "italic", "titlePadding": 12, "labelFontSize": 17, "labelFontWeight": "bold", "labelPadding": 2, "tickSize": 4, "tickWidth": 1.5, "domainWidth": 1.5, "domainDash": [191.6, 60], "labelOverlap": false, "labelSeparation": -20}},
             "fill": {"field": "cond", "type": "nominal", "scale": {"domain": ["Control", "2% Ethanol", "2% H₂O"], "range": ["white", "black", "#d9d9d9"]},
                      "legend": {"orient": "none", "legendX": 51, "legendY": -47.5, "title": null, "symbolType": "M-1,-0.57H1V0.57H-1Z", "symbolSize": 441, "symbolStrokeColor": "black", "symbolStrokeWidth": 1.5, "symbolOpacity": 1, "labelFontSize": 17, "labelFontWeight": "bold", "labelOffset": 5, "rowPadding": 0, "padding": 0}}
           }},
          {"transform": [{"filter": "datum.cond === '2% H₂O'"}],
           "mark": {"type": "bar", "fill": "#808080", "stroke": "black", "strokeWidth": 1.5},
           "encoding": {"x": {"field": "exp", "type": "nominal", "axis": {"labels": false, "ticks": false, "title": null, "domainWidth": 1.5}}, "xOffset": {"field": "phase", "type": "nominal"},
                        "y": {"field": "mean", "type": "quantitative", "axis": {"values": [0, 1, 2, 3, 4, 5], "title": "N", "titleFontSize": 18, "titleFontWeight": "bold", "titleFontStyle": "italic", "titlePadding": 12, "labelFontSize": 17, "labelFontWeight": "bold", "labelPadding": 2, "tickSize": 4, "tickWidth": 1.5, "domainWidth": 1.5, "domainDash": [191.6, 60], "labelOverlap": false, "labelSeparation": -20}}}},
          {"mark": {"type": "bar", "width": 1.5, "color": "black"},
           "encoding": {"x": {"field": "exp", "type": "nominal", "axis": {"labels": false, "ticks": false, "title": null, "domainWidth": 1.5}}, "xOffset": {"field": "phase", "type": "nominal"},
                        "y": {"field": "mean", "type": "quantitative", "axis": {"values": [0, 1, 2, 3, 4, 5], "title": "N", "titleFontSize": 18, "titleFontWeight": "bold", "titleFontStyle": "italic", "titlePadding": 12, "labelFontSize": 17, "labelFontWeight": "bold", "labelPadding": 2, "tickSize": 4, "tickWidth": 1.5, "domainWidth": 1.5, "domainDash": [191.6, 60], "labelOverlap": false, "labelSeparation": -20}}, "y2": {"field": "hi"}}},
          {"mark": {"type": "bar", "width": 8, "fill": "black", "stroke": "black", "strokeWidth": 1.5},
           "encoding": {"x": {"field": "exp", "type": "nominal", "axis": {"labels": false, "ticks": false, "title": null, "domainWidth": 1.5}}, "xOffset": {"field": "phase", "type": "nominal"},
                        "y": {"field": "hi", "type": "quantitative", "axis": {"values": [0, 1, 2, 3, 4, 5], "title": "N", "titleFontSize": 18, "titleFontWeight": "bold", "titleFontStyle": "italic", "titlePadding": 12, "labelFontSize": 17, "labelFontWeight": "bold", "labelPadding": 2, "tickSize": 4, "tickWidth": 1.5, "domainWidth": 1.5, "domainDash": [191.6, 60], "labelOverlap": false, "labelSeparation": -20}}, "y2": {"field": "hi"}}},
          {"mark": {"type": "text", "fontSize": 15, "baseline": "alphabetic", "align": "center", "dy": 4},
           "encoding": {"x": {"field": "exp", "type": "nominal", "axis": {"labels": false, "ticks": false, "title": null, "domainWidth": 1.5}}, "xOffset": {"field": "phase", "type": "nominal"},
                        "y": {"field": "hi", "type": "quantitative", "axis": {"values": [0, 1, 2, 3, 4, 5], "title": "N", "titleFontSize": 18, "titleFontWeight": "bold", "titleFontStyle": "italic", "titlePadding": 12, "labelFontSize": 17, "labelFontWeight": "bold", "labelPadding": 2, "tickSize": 4, "tickWidth": 1.5, "domainWidth": 1.5, "domainDash": [191.6, 60], "labelOverlap": false, "labelSeparation": -20}}, "text": {"field": "sig", "type": "nominal"}}},
          {"data": {"values": [{"note": "*P < 0.05"}]}, "mark": {"type": "text", "fontSize": 17, "fontWeight": "bold", "align": "right", "baseline": "alphabetic", "dx": -5},
           "encoding": {"x": {"value": "width"},
                        "y": {"datum": 4.6, "type": "quantitative", "axis": {"values": [0, 1, 2, 3, 4, 5], "title": "N", "titleFontSize": 18, "titleFontWeight": "bold", "titleFontStyle": "italic", "titlePadding": 12, "labelFontSize": 17, "labelFontWeight": "bold", "labelPadding": 2, "tickSize": 4, "tickWidth": 1.5, "domainWidth": 1.5, "domainDash": [191.6, 60], "labelOverlap": false, "labelSeparation": -20}}, "text": {"field": "note", "type": "nominal"}}}
        ]
      }
    ],
    "columns": 2,
    "align": "none",
    "spacing": 55,
    "resolve": {"scale": {"fill": "independent"}, "legend": {"fill": "independent"}}
  }
]
}
